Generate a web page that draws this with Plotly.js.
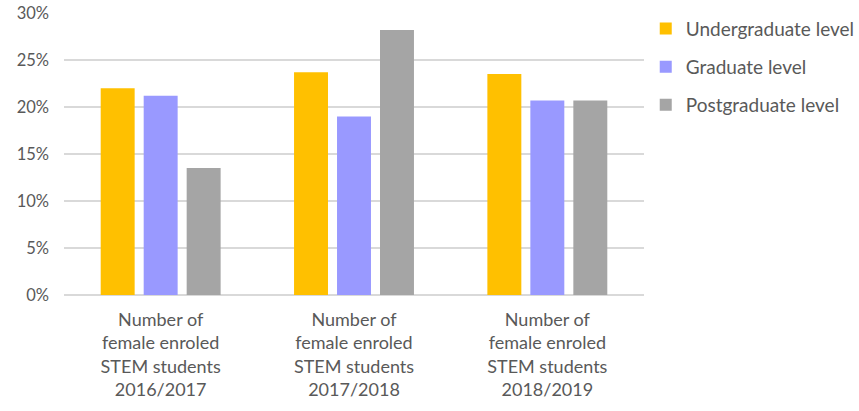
<!DOCTYPE html>
<html>
<head>
<meta charset="utf-8">
<script src="https://cdn.plot.ly/plotly-3.0.1.min.js"></script>
<style>html,body{margin:0;padding:0;background:#fff;}#chart{width:859px;height:411px;}</style>
</head>
<body>
<div id="chart"></div>
<script>
var categories = ["2016/2017", "2017/2018", "2018/2019"];
var tickLabels = [
  "Number of<br>female enroled<br>STEM students<br>2016/2017",
  "Number of<br>female enroled<br>STEM students<br>2017/2018",
  "Number of<br>female enroled<br>STEM students<br>2018/2019"
];
var seriesNames = ["Undergraduate level", "Graduate level", "Postgraduate level"];
var undergraduate = [22.0, 23.7, 23.5];
var graduate = [21.2, 19.0, 20.7];
var postgraduate = [13.5, 28.2, 20.7];
var colors = ["#FFC000", "#9999FF", "#A5A5A5"];

var seriesValues = [undergraduate, graduate, postgraduate];
var traces = seriesValues.map(function (vals, i) {
  return {
    type: "bar",
    name: seriesNames[i],
    x: categories,
    y: vals,
    legendgroup: "g" + i,
    marker: { color: colors[i], line: { width: 0 } },
    hoverinfo: "skip"
  };
});

var font = "Lato, 'Open Sans', sans-serif";
var layout = {
  width: 859,
  height: 411,
  margin: { l: 64, r: 215, t: 13, b: 116, pad: 0, autoexpand: false },
  paper_bgcolor: "#fff",
  plot_bgcolor: "#fff",
  barmode: "group",
  bargap: 0.333,
  bargroupgap: 0.21,
  font: { family: font, size: 16, color: "#595959" },
  xaxis: {
    type: "category",
    tickvals: categories,
    ticktext: tickLabels,
    tickangle: 0,
    showgrid: false,
    zeroline: false,
    showline: false,
    ticks: "",
    ticklabelstandoff: 12,
    automargin: false,
    tickfont: { family: font, size: 18, color: "#595959" }
  },
  yaxis: {
    range: [0, 30],
    dtick: 5,
    ticksuffix: "%",
    showgrid: true,
    gridcolor: "#d9d9d9",
    gridwidth: 1.3,
    zeroline: true,
    zerolinecolor: "#d9d9d9",
    zerolinewidth: 1.3,
    showline: false,
    ticks: "",
    ticklabelstandoff: 14,
    automargin: false,
    tickfont: { family: font, size: 16.5, color: "#595959" }
  },
  showlegend: true,
  legend: {
    x: 1.003,
    xanchor: "left",
    y: 1.012,
    yanchor: "top",
    tracegroupgap: 10.5,
    traceorder: "grouped",
    font: { family: font, size: 19, color: "#595959" },
    itemwidth: 30
  }
};

Plotly.newPlot("chart", traces, layout, { displayModeBar: false, staticPlot: true });
</script>
</body>
</html>
